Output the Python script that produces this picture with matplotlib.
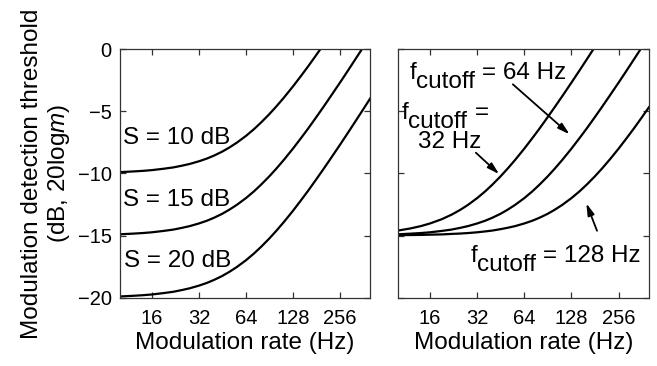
import matplotlib
matplotlib.use('Agg')
import matplotlib.pyplot as plt
from matplotlib.ticker import FixedLocator, FixedFormatter

plt.rcParams['font.family'] = 'Liberation Sans'
plt.rcParams['mathtext.fontset'] = 'custom'
plt.rcParams['mathtext.rm'] = 'Liberation Sans'
plt.rcParams['mathtext.it'] = 'Liberation Sans:italic'

# modulation rates (Hz)
rate = [10, 12, 14, 16, 19, 22, 25, 28, 32, 36, 40, 45, 50, 56, 64, 72, 80, 90,
        100, 112, 128, 144, 160, 180, 200, 225, 256, 288, 320, 360, 400]

# left panel: thresholds for three signal levels S
thr_s10 = [-9.90, -9.85, -9.80, -9.74, -9.63, -9.52, -9.38, -9.24, -9.03, -8.81,
           -8.57, -8.26, -7.93, -7.53, -6.99, -6.45, -5.91, -5.26, -4.63, -3.91,
           -3.01, -2.17, -1.40, -0.50, 0.32, 1.26, 2.30, 3.27, 4.15, 5.14, 6.03]
thr_s15 = [-14.90, -14.85, -14.80, -14.74, -14.63, -14.52, -14.38, -14.24, -14.03,
           -13.81, -13.57, -13.26, -12.93, -12.53, -11.99, -11.45, -10.91, -10.26,
           -9.63, -8.91, -8.01, -7.17, -6.40, -5.50, -4.68, -3.74, -2.70, -1.73,
           -0.85, 0.14, 1.03]
thr_s20 = [-19.90, -19.85, -19.80, -19.74, -19.63, -19.52, -19.38, -19.24, -19.03,
           -18.81, -18.57, -18.26, -17.93, -17.53, -16.99, -16.45, -15.91, -15.26,
           -14.63, -13.91, -13.01, -12.17, -11.40, -10.50, -9.68, -8.74, -7.70,
           -6.73, -5.85, -4.86, -3.97]

# right panel: thresholds for three cutoff frequencies
thr_fc32 = [-14.60, -14.43, -14.24, -14.03, -13.69, -13.32, -12.93, -12.53, -11.99,
            -11.45, -10.91, -10.26, -9.63, -8.91, -8.01, -7.17, -6.40, -5.50, -4.68,
            -3.78, -2.70, -1.73, -0.85, 0.14, 1.03, 2.03, 3.13, 4.14, 5.04, 6.06, 6.97]
thr_fc64 = thr_s15
thr_fc128 = [-14.97, -14.96, -14.95, -14.93, -14.91, -14.87, -14.84, -14.80, -14.74,
             -14.67, -14.60, -14.49, -14.38, -14.24, -14.03, -13.81, -13.57, -13.26,
             -12.93, -12.53, -11.99, -11.45, -10.91, -10.26, -9.63, -8.88, -8.01,
             -7.17, -6.40, -5.50, -4.68]

xticks = [16, 32, 64, 128, 256]
yticks = [-20, -15, -10, -5, 0]

FS = 17.5

fig = plt.figure(figsize=(6.57, 3.66), dpi=100)
ax1 = fig.add_axes([0.1826, 0.1866, 0.381, 0.6795])
ax2 = fig.add_axes([0.6058, 0.1866, 0.382, 0.6795])

for ax in (ax1, ax2):
    ax.set_xscale('log', base=2)
    ax.set_xlim(10, 400)
    ax.set_ylim(-20, 0)
    ax.xaxis.set_major_locator(FixedLocator(xticks))
    ax.xaxis.set_major_formatter(FixedFormatter([str(t) for t in xticks]))
    ax.xaxis.set_minor_locator(FixedLocator([]))
    ax.set_yticks(yticks)
    ax.tick_params(direction='in', length=4.5, width=0.9, top=True, right=True,
                   labelsize=14.5, pad=6, color='#333333')
    ax.tick_params(axis='x', pad=8)
    for sp in ax.spines.values():
        sp.set_linewidth(0.9)
        sp.set_color('#333333')
    ax.set_xlabel('Modulation rate (Hz)', fontsize=FS, labelpad=3)

ax2.tick_params(labelleft=False)

for thr in (thr_s10, thr_s15, thr_s20):
    ax1.plot(rate, thr, color='k', lw=1.6)
for thr in (thr_fc32, thr_fc64, thr_fc128):
    ax2.plot(rate, thr, color='k', lw=1.6)

ax1.set_ylabel('Modulation detection threshold\n(dB, 20log$m$)', fontsize=FS,
               linespacing=1.15, labelpad=4)

ax1.text(10.4, -7.16, 'S = 10 dB', fontsize=FS, va='center', ha='left')
ax1.text(10.4, -12.15, 'S = 15 dB', fontsize=FS, va='center', ha='left')
ax1.text(10.6, -17.03, 'S = 20 dB', fontsize=FS, va='center', ha='left')


def cutoff_label(ax, x, y, rest):
    # "f" with a full-size, lowered "cutoff" subscript, then the rest of the text
    kw = dict(textcoords='offset points', fontsize=FS, va='baseline', ha='left')
    ax.annotate('f', (x, y), xytext=(0, 0), **kw)
    ax.annotate('cutoff', (x, y), xytext=(0.278 * FS, -0.37 * FS), **kw)
    ax.annotate(rest, (x, y), xytext=((0.278 + 2.446 + 0.278) * FS, 0), **kw)


cutoff_label(ax2, 11.8, -2.45, '= 64 Hz')
cutoff_label(ax2, 10.56, -5.6, '=')
ax2.text(21.5, -7.94, '32 Hz', fontsize=FS, va='baseline', ha='center')
cutoff_label(ax2, 28.9, -17.11, '= 128 Hz')

arrow = dict(arrowstyle='-|>,head_length=0.7,head_width=0.2', color='k',
             lw=1.3, shrinkA=0, shrinkB=0)
ax2.annotate('', xy=(124.5, -6.86), xytext=(54.1, -2.84), arrowprops=arrow)
ax2.annotate('', xy=(44.2, -10.06), xytext=(31.4, -8.34), arrowprops=arrow)
ax2.annotate('', xy=(159.3, -12.41), xytext=(186.4, -14.62), arrowprops=arrow)

fig.savefig('out.png', dpi=100)
